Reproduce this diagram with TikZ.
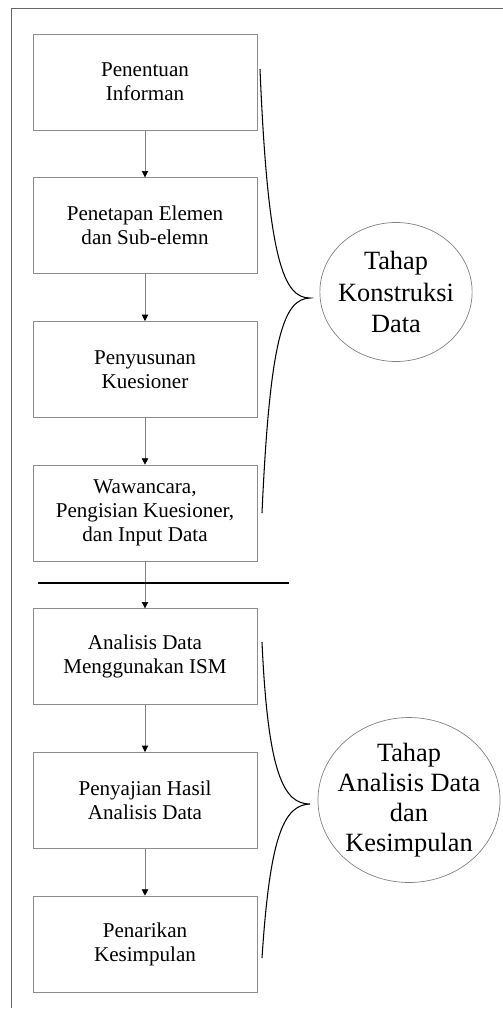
\documentclass[tikz,border=0pt]{standalone}
\usepackage{fontspec}
\setmainfont{Liberation Serif}
\usetikzlibrary{positioning,shapes.geometric,arrows.meta}
\tikzset{
  stepbox/.style={draw=gray!90,rectangle,minimum width=4.48cm,minimum height=1.92cm,
    inner sep=0pt,align=center,font=\fontsize{12}{13.6}\selectfont},
  flow/.style={draw=gray,-{Triangle[length=3.6pt,width=3.6pt,black]}},
  phase/.style={draw=gray,ellipse,inner sep=0pt,align=center},
  brace/.style={draw=black,line width=0.6pt}
}
\begin{document}
\begin{tikzpicture}[x=0.02cm,y=-0.02cm,node distance=0.94cm]
\useasboundingbox (0,0) rectangle (503,1010);
\draw[gray!80!black,line width=0.5pt] (503,8) -- (11,8) -- (11,1008);
\begin{scope}[]
\node[stepbox] (informan) at (145,82) {Penentuan\\Informan};
\node[stepbox,below=of informan] (elemen) {Penetapan Elemen\\dan Sub-elemn};
\node[stepbox,below=of elemen] (kuesioner) {Penyusunan\\Kuesioner};
\node[stepbox,below=of kuesioner] (wawancara) {Wawancara,\\Pengisian Kuesioner,\\dan Input Data};
\node[stepbox,below=of wawancara] (ism) {Analisis Data\\Menggunakan ISM};
\node[stepbox,below=of ism] (hasil) {Penyajian Hasil\\Analisis Data};
\node[stepbox,below=of hasil] (simpul) {Penarikan\\Kesimpulan};
\end{scope}
\draw[flow] (informan) -- (elemen);
\draw[flow] (elemen) -- (kuesioner);
\draw[flow] (kuesioner) -- (wawancara);
\draw[flow] (wawancara) -- (ism);
\draw[flow] (ism) -- (hasil);
\draw[flow] (hasil) -- (simpul);
\coordinate (sepL) at (38,583);
\coordinate (sepR) at (289,583);
\draw[black,line width=1.2pt] (sepL) -- (sepR);
\node[phase,inner xsep=-0.08cm,minimum width=3.04cm,minimum height=2.78cm,font=\fontsize{15}{18}\selectfont]
  (konstruksi) at (396,292) {Tahap\\Konstruksi\\Data};
\node[phase,inner xsep=-0.14cm,minimum width=3.64cm,minimum height=3.3cm,font=\fontsize{15}{17}\selectfont]
  (analisis) at (409,800) {Tahap\\Analisis Data\\dan\\Kesimpulan};
\coordinate (b1top) at (260,69);
\coordinate (b1tip) at (310,298);
\coordinate (b1bot) at (262,513);
\coordinate (b2top) at (262,642);
\coordinate (b2tip) at (310,804);
\coordinate (b2bot) at (262,958);
\draw[brace] (b1top) .. controls (268,262) and (284,298) .. (b1tip)
  .. controls (284,299) and (270,335) .. (b1bot);
\draw[brace] (b2top) .. controls (268,775) and (284,804) .. (b2tip)
  .. controls (284,805) and (270,835) .. (b2bot);
\end{tikzpicture}
\end{document}
